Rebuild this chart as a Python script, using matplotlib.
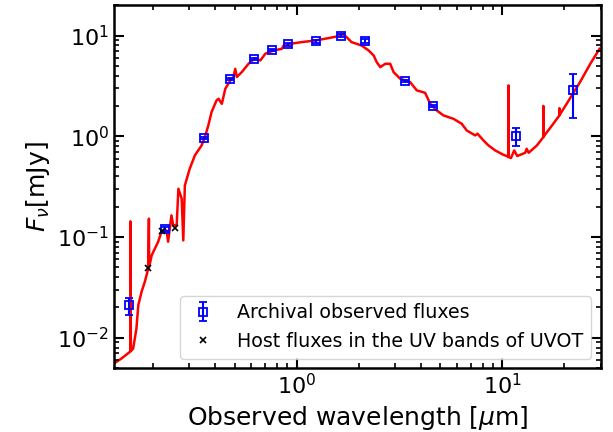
import numpy as np
from matplotlib import pyplot as plt


# best-fit SED model (wavelength in micron, flux density in mJy)
modelWave = [0.129, 0.141, 0.152, 0.156, 0.156, 0.157, 0.161, 0.167, 0.1705, 0.177,
	0.1835, 0.1906, 0.192, 0.1925, 0.198, 0.213, 0.221, 0.234, 0.238, 0.247,
	0.252, 0.262, 0.267, 0.277, 0.282, 0.287, 0.303, 0.321, 0.346, 0.359,
	0.373, 0.387, 0.409, 0.418, 0.434, 0.451, 0.477, 0.494, 0.504, 0.513,
	0.542, 0.585, 0.630, 0.667, 0.705, 0.773, 0.849, 0.865, 0.932, 1.06,
	1.23, 1.43, 1.60, 1.66, 1.75, 1.85, 2.07, 2.24, 2.37, 2.45,
	2.55, 2.70, 2.85, 2.96, 3.19, 3.31, 3.56, 3.84, 4.21, 4.46,
	4.80, 5.17, 5.78, 6.34, 6.71, 7.37, 7.56, 8.09, 8.55, 9.22,
	10.1, 10.7, 10.7, 10.72, 11.0, 11.4, 11.8, 12.9, 13.1, 13.4,
	14.7, 15.8, 15.8, 15.82, 17.4, 18.9, 18.9, 18.92, 20.5, 23.8,
	26.7, 29.6]
modelFlux = [0.0055, 0.0062, 0.0070, 0.0073, 0.143, 0.0074, 0.0078, 0.0123, 0.021, 0.0287,
	0.036, 0.0484, 0.152, 0.050, 0.0657, 0.0898, 0.113, 0.116, 0.0898, 0.164,
	0.130, 0.132, 0.301, 0.240, 0.0925, 0.325, 0.476, 0.645, 0.811, 0.98,
	1.28, 1.74, 2.27, 2.36, 2.10, 2.96, 3.58, 3.87, 4.67, 3.87,
	4.33, 5.24, 5.97, 5.65, 6.58, 7.10, 7.38, 7.96, 8.27, 8.60,
	8.92, 9.42, 9.86, 10.4, 9.64, 8.60, 7.96, 7.10, 6.33, 5.45,
	4.86, 5.24, 5.24, 4.33, 3.72, 3.63, 3.45, 2.85, 2.70, 2.10,
	1.80, 1.61, 1.49, 1.33, 1.14, 1.02, 1.06, 0.908, 0.811, 0.723,
	0.655, 0.626, 3.2, 0.62, 0.608, 0.723, 0.636, 0.686, 0.752, 0.686,
	0.811, 0.982, 2.0, 0.99, 1.28, 1.61, 1.90, 1.62, 2.10, 3.45,
	5.24, 7.38]

# archival photometry
obsWave = [0.153, 0.231, 0.355, 0.477, 0.625, 0.764, 0.914, 1.24, 1.64, 2.16, 3.35, 4.6, 11.6, 22.1]
obsFlux = [0.021, 0.12, 0.96, 3.7, 5.8, 7.2, 8.2, 8.8, 10.0, 8.8, 3.5, 2.0, 1.0, 2.85]
obsErr = [0.004, 0.005, 0.03, 0.1, 0.15, 0.2, 0.25, 0.3, 0.4, 0.4, 0.08, 0.06, 0.2, 1.32]

# host fluxes in the UVOT UV bands (UVW2, UVM2, UVW1)
uvotWave = [0.191, 0.222, 0.258]
uvotFlux = [0.0496, 0.116, 0.124]


fig = plt.figure(figsize=(6.13, 4.32), dpi=100)
axes = fig.add_axes([0.186, 0.148, 0.794, 0.840])

axes.plot(modelWave, modelFlux, '-', color='red', lw=1.8, zorder=1)
obsHandle = axes.errorbar(obsWave, obsFlux, yerr=obsErr, fmt='s', mfc='none', mec='blue', ecolor='blue',
	ms=6, mew=1.3, elinewidth=1.5, capsize=3, capthick=1.5, zorder=3,
	label='Archival observed fluxes')
uvotHandle, = axes.plot(uvotWave, uvotFlux, 'x', color='black', ms=5, mew=1.2, zorder=4,
	label='Host fluxes in the UV bands of UVOT')

axes.set_xscale('log')
axes.set_yscale('log')
axes.set_xlim(0.13, 30)
axes.set_ylim(0.005, 20)

axes.set_xlabel(r'Observed wavelength [$\mu$m]', fontsize=18)
axes.set_ylabel(r'$F_\nu$[mJy]', fontsize=18)

axes.tick_params(which='both', direction='in', top=True, right=True, labelsize=16)
axes.tick_params(which='major', length=7, width=1.5)
axes.tick_params(which='minor', length=3.5, width=1.2)
for spine in axes.spines.values():
	spine.set_linewidth(1.8)

axes.legend(handles=[obsHandle, uvotHandle], loc='lower right', fontsize=13.7,
	handlelength=1.6, handletextpad=1.0)

fig.savefig('out.png', dpi=100)
